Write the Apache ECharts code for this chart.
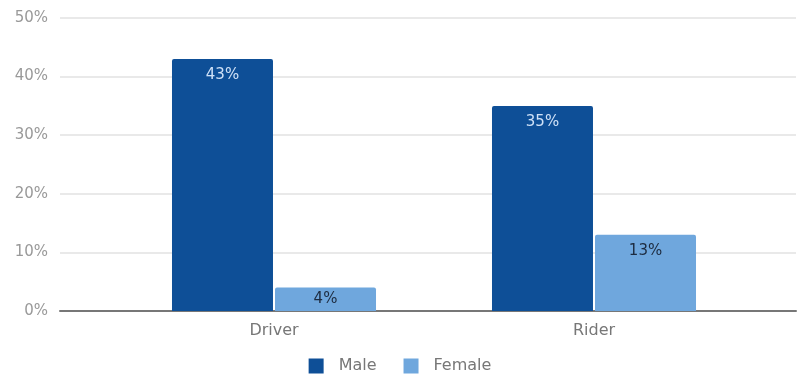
<!DOCTYPE html>
<html>
<head>
<meta charset="utf-8">
<script src="https://cdn.jsdelivr.net/npm/echarts@6/dist/echarts.min.js"></script>
<style>
html,body{margin:0;padding:0;background:#fff;}
#chart{width:800px;height:374px;}
</style>
</head>
<body>
<div id="chart"></div>
<script>
// Share of each role by gender
const categories = ['Driver', 'Rider'];
const maleValues = [43, 35];
const femaleValues = [4, 13];
const yTicks = [0, 10, 20, 30, 40, 50];

const chart = echarts.init(document.getElementById('chart'), null, {renderer: 'canvas'});
const fontFamily = '"DejaVu Sans", Verdana, sans-serif';

// short bars get their label centred, taller ones near the top
function withLabels(values) {
  return values.map(v => ({
    value: v,
    label: v < 8 ? {position: 'inside'} : {position: 'insideTop', distance: 9}
  }));
}

chart.setOption({
  animation: false,
  textStyle: {fontFamily: fontFamily},
  legend: {
    top: 357,
    left: 'center',
    itemWidth: 15,
    itemHeight: 15,
    itemGap: 27,
    icon: 'rect',
    padding: 0,
    textStyle: {color: '#777', fontSize: 16, fontFamily: fontFamily, padding: [0, 0, 0, 10], lineHeight: 18},
    data: ['Male', 'Female']
  },
  grid: [
    // background grid: gridlines and baseline across the full width
    {left: 60, right: 4, top: 18, bottom: 63},
    // bars grid
    {left: 114, right: 46, top: 18, bottom: 63}
  ],
  xAxis: [
    {
      type: 'category', gridIndex: 0, data: [''],
      axisLine: {show: true, lineStyle: {color: '#777', width: 2}},
      axisTick: {show: false}, axisLabel: {show: false}
    },
    {
      type: 'category', gridIndex: 1, data: categories,
      axisLine: {show: false}, axisTick: {show: false},
      axisLabel: {color: '#777', fontSize: 16, margin: 12, fontFamily: fontFamily}
    }
  ],
  yAxis: [
    {
      type: 'value', gridIndex: 0, min: yTicks[0], max: yTicks[yTicks.length - 1], interval: 10,
      axisLine: {show: false}, axisTick: {show: false},
      axisLabel: {color: '#999', fontSize: 15, margin: 12, formatter: '{value}%', fontFamily: fontFamily},
      splitLine: {lineStyle: {color: '#e2e2e2', width: 1.5}}
    },
    {
      type: 'value', gridIndex: 1, min: yTicks[0], max: yTicks[yTicks.length - 1], interval: 10,
      show: false, splitLine: {show: false}
    }
  ],
  series: [
    {
      name: 'Male', type: 'bar', xAxisIndex: 1, yAxisIndex: 1,
      data: withLabels(maleValues), barWidth: 101, barGap: '2%',
      itemStyle: {color: '#0e4f97', borderRadius: [2, 2, 0, 0]},
      label: {show: true, formatter: '{c}%', color: '#cfe1f7', fontSize: 15, fontFamily: fontFamily}
    },
    {
      name: 'Female', type: 'bar', xAxisIndex: 1, yAxisIndex: 1,
      data: withLabels(femaleValues), barWidth: 101,
      itemStyle: {color: '#6fa7dd', borderRadius: [2, 2, 0, 0]},
      label: {show: true, formatter: '{c}%', color: '#1d2b3f', fontSize: 15, fontFamily: fontFamily}
    }
  ]
});
</script>
</body>
</html>
